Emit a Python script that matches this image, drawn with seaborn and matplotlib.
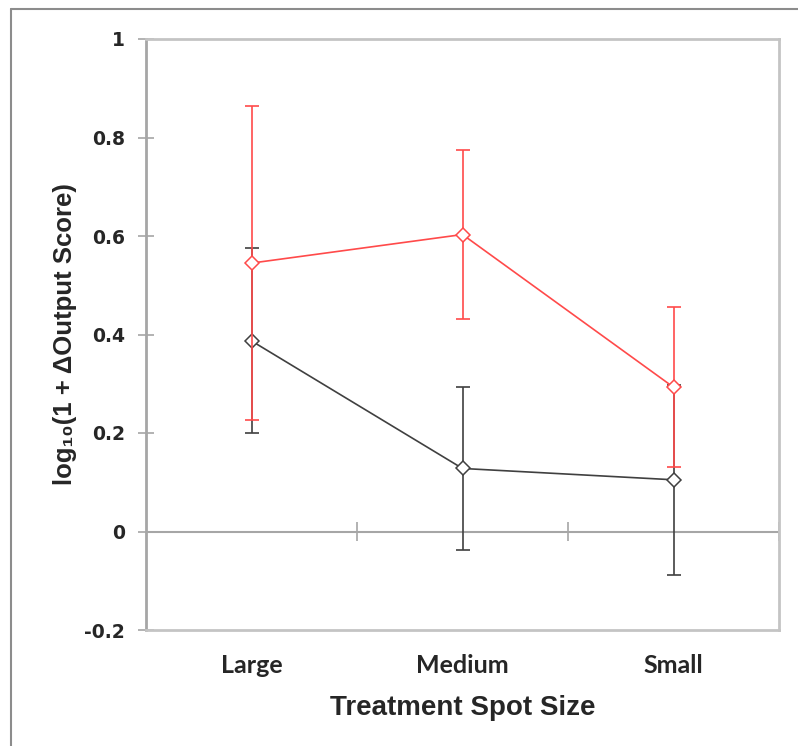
import matplotlib
matplotlib.use('Agg')
import matplotlib.pyplot as plt
from matplotlib.lines import Line2D
import seaborn as sns
import numpy as np

# ---------------------------------------------------------------------------
# Data
# ---------------------------------------------------------------------------

categories = ['Large', 'Medium', 'Small']

black_mean = [0.387, 0.128, 0.105]
black_err  = [0.188, 0.166, 0.193]

red_mean   = [0.545, 0.603, 0.293]
red_err    = [0.318, 0.171, 0.163]

y_ticks = [-0.2, 0, 0.2, 0.4, 0.6, 0.8, 1]
y_tick_labels = ['-0.2', '0', '0.2', '0.4', '0.6', '0.8', '1']

# ---------------------------------------------------------------------------
# Figure
# ---------------------------------------------------------------------------

sns.set_style('white')
plt.rcParams['font.family'] = ['Lato', 'DejaVu Sans']

fig = plt.figure(figsize=(7.98, 7.46), dpi=100)
ax = fig.add_axes([146 / 798, 1 - 630 / 746, (779 - 146) / 798, (630 - 39) / 746])

pos = np.arange(len(categories))
series = [
    (black_mean, black_err, '#404040', 3),
    (red_mean,   red_err,   '#FF4A4A', 5),
]

for mean, err, color, z in series:
    ax.errorbar(pos, mean, yerr=err, fmt='none', ecolor=color, elinewidth=1.2,
                capsize=5, capthick=1.2, zorder=z)
    sns.lineplot(x=pos, y=mean, ax=ax, color=color, linewidth=1.2,
                 marker='D', markersize=7, markerfacecolor='white',
                 markeredgecolor=color, markeredgewidth=1.1, zorder=z + 1)

# zero line with category separators
ax.axhline(0, color='#A6A6A6', linewidth=1.5, zorder=1)
ax.vlines([0.5, 1.5, 2.5], -0.019, 0.019, color='#A6A6A6', linewidth=1.2, zorder=1)

ax.set_xlim(-0.5, 2.5)
ax.set_ylim(-0.2, 1)
ax.set_xticks(pos)
ax.set_xticklabels(categories, fontsize=18, fontweight='bold')
ax.set_yticks(y_ticks)
ax.set_yticklabels(y_tick_labels, fontsize=13.5, fontweight='bold',
                   family=['DejaVu Sans'])
ax.tick_params(axis='x', length=0, pad=17)
ax.tick_params(axis='y', direction='inout', length=12, width=1.2,
               color='#A6A6A6', pad=9, left=True)

for side in ['top', 'right', 'bottom']:
    ax.spines[side].set_color('#C4C4C4')
    ax.spines[side].set_linewidth(2)
ax.spines['left'].set_color('#A6A6A6')
ax.spines['left'].set_linewidth(2)

ax.set_xlabel('Treatment Spot Size', fontsize=20, fontweight='bold', labelpad=13,
              family=['Liberation Sans', 'DejaVu Sans'])
ax.set_ylabel('log₁₀(1 + ΔOutput Score)', fontsize=18.5, fontweight='bold',
              family=['Liberation Sans', 'DejaVu Sans'], labelpad=5)

# outer frame (left and top edges visible)
fig.add_artist(Line2D([11 / 798, 11 / 798], [0, 1 - 9 / 746],
                      color='#8C8C8C', linewidth=1.5))
fig.add_artist(Line2D([11 / 798, 1], [1 - 9 / 746, 1 - 9 / 746],
                      color='#8C8C8C', linewidth=1.5))

fig.savefig('out.png', dpi=100)
